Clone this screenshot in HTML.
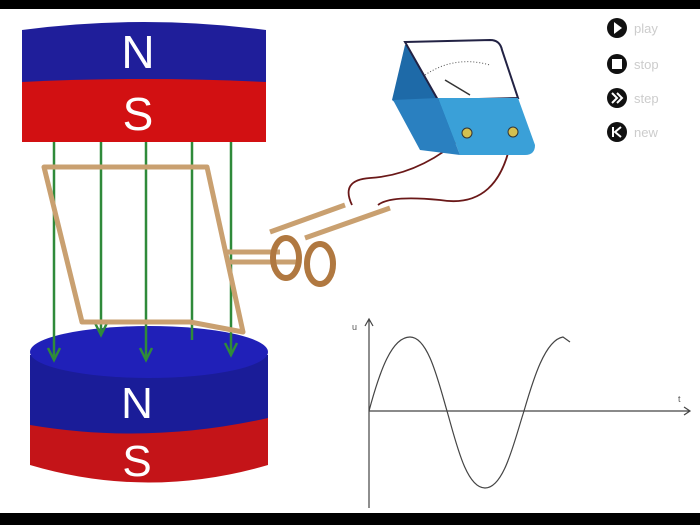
<!DOCTYPE html>
<html><head><style>
body{margin:0;width:700px;height:525px;background:#fff;overflow:hidden;position:relative;font-family:"Liberation Sans",sans-serif}
</style></head><body>
<svg width="700" height="525" viewBox="0 0 700 525" style="position:absolute;left:0;top:0">
<rect x="0" y="0" width="700" height="9" fill="#000"/>
<rect x="0" y="513" width="700" height="12" fill="#000"/>
<!-- top magnet -->
<path d="M22,30 Q144,14 266,30 L266,86 L22,86 Z" fill="#1f1e9a"/>
<path d="M22,82 Q144,76 266,82 L266,142 L22,142 Z" fill="#d21012"/>
<text x="138" y="68" font-size="46" fill="#fff" text-anchor="middle">N</text>
<text x="138" y="130" font-size="46" fill="#fff" text-anchor="middle">S</text>
<!-- bottom magnet -->
<path d="M30,355 L30,465 Q148,500 268,465 L268,355 Z" fill="#c41418"/>
<path d="M30,355 L30,425 Q148,445 268,418 L268,355 Z" fill="#1a1c98"/>
<ellipse cx="149" cy="352" rx="119" ry="26" fill="#2020b8"/>
<text x="137" y="418" font-size="44" fill="#fff" text-anchor="middle">N</text>
<text x="137" y="476" font-size="44" fill="#fff" text-anchor="middle">S</text>
<!-- field lines -->
<g stroke="#2f8a3a" stroke-width="2.5" fill="none">
<path d="M54,142V360M48,348L54,360L60,348"/>
<path d="M101,142V335M95,323L101,335L107,323"/>
<path d="M146,142V360M140,348L146,360L152,348"/>
<path d="M192,142V340"/>
<path d="M231,142V355M225,343L231,355L237,343"/>
</g>
<!-- loop -->
<g stroke="#c9a070" stroke-width="5" fill="none" stroke-linejoin="round">
<path d="M44,167 L207,167 L243,332 L190,322 L82,322 Z"/>
<path d="M225,252 L280,252 M230,262 L300,262"/>
<path d="M270,232 L345,205 M305,238 L390,208"/>
</g>
<ellipse cx="286" cy="258" rx="13" ry="20" fill="none" stroke="#b07840" stroke-width="6"/>
<ellipse cx="320" cy="264" rx="13" ry="20" fill="none" stroke="#b07840" stroke-width="6"/>
<!-- wires -->
<path d="M352,205 Q340,180 370,178 Q420,175 465,135" fill="none" stroke="#6a1818" stroke-width="1.8"/>
<path d="M378,205 Q390,195 440,200 Q500,210 512,135" fill="none" stroke="#6a1818" stroke-width="1.8"/>
<!-- meter -->
<path d="M392,100 L405,45 L455,42 L455,150 Z" fill="#1e6aa8"/>
<path d="M405,42 L490,40 Q500,40 502,50 L518,98 L438,100 Z" fill="#fff" stroke="#224" stroke-width="2"/>
<path d="M438,98 L518,98 L535,145 Q535,155 525,155 L460,155 Z" fill="#3aa0d8"/>
<path d="M393,100 L438,98 L460,155 L420,150 Z" fill="#2a80c0"/>
<path d="M425,75 Q455,55 490,65" fill="none" stroke="#555" stroke-width="1" stroke-dasharray="1,2"/>
<line x1="445" y1="80" x2="470" y2="95" stroke="#333" stroke-width="1.5"/>
<circle cx="467" cy="133" r="5" fill="#d4c050" stroke="#333"/>
<circle cx="513" cy="132" r="5" fill="#d4c050" stroke="#333"/>
<!-- buttons -->
<g fill="#111">
<circle cx="617" cy="28" r="10"/><circle cx="617" cy="64" r="10"/><circle cx="617" cy="98" r="10"/><circle cx="617" cy="132" r="10"/>
</g>
<path d="M614,22 L622,28 L614,34Z" fill="#fff"/>
<rect x="612" y="59" width="10" height="10" fill="#fff"/>
<path d="M612,93 L617,98 L612,103 M617,93 L622,98 L617,103" stroke="#fff" stroke-width="2" fill="none"/>
<path d="M613,127 V137 M621,127 L615,132 L621,137" stroke="#fff" stroke-width="2" fill="none"/>
<g font-size="13" fill="#ccc"><text x="634" y="33">play</text><text x="634" y="69">stop</text><text x="634" y="103">step</text><text x="634" y="137">new</text></g>
<!-- graph -->
<g stroke="#444" stroke-width="1.2" fill="none">
<path d="M369,508 V320 M365,326 L369,319 L373,326"/>
<path d="M369,411 H690 M684,407 L690,411 L684,415"/>
<path d="M369,411 C380,370 392,337 410,337 C428,337 438,380 447,411 C456,442 466,488 485,488 C504,488 514,442 524,411 C533,380 545,340 563,337 L570,342"/>
</g>
<text x="352" y="330" font-size="9" fill="#555">u</text>
<text x="678" y="402" font-size="9" fill="#555">t</text>
</svg>
</body></html>
